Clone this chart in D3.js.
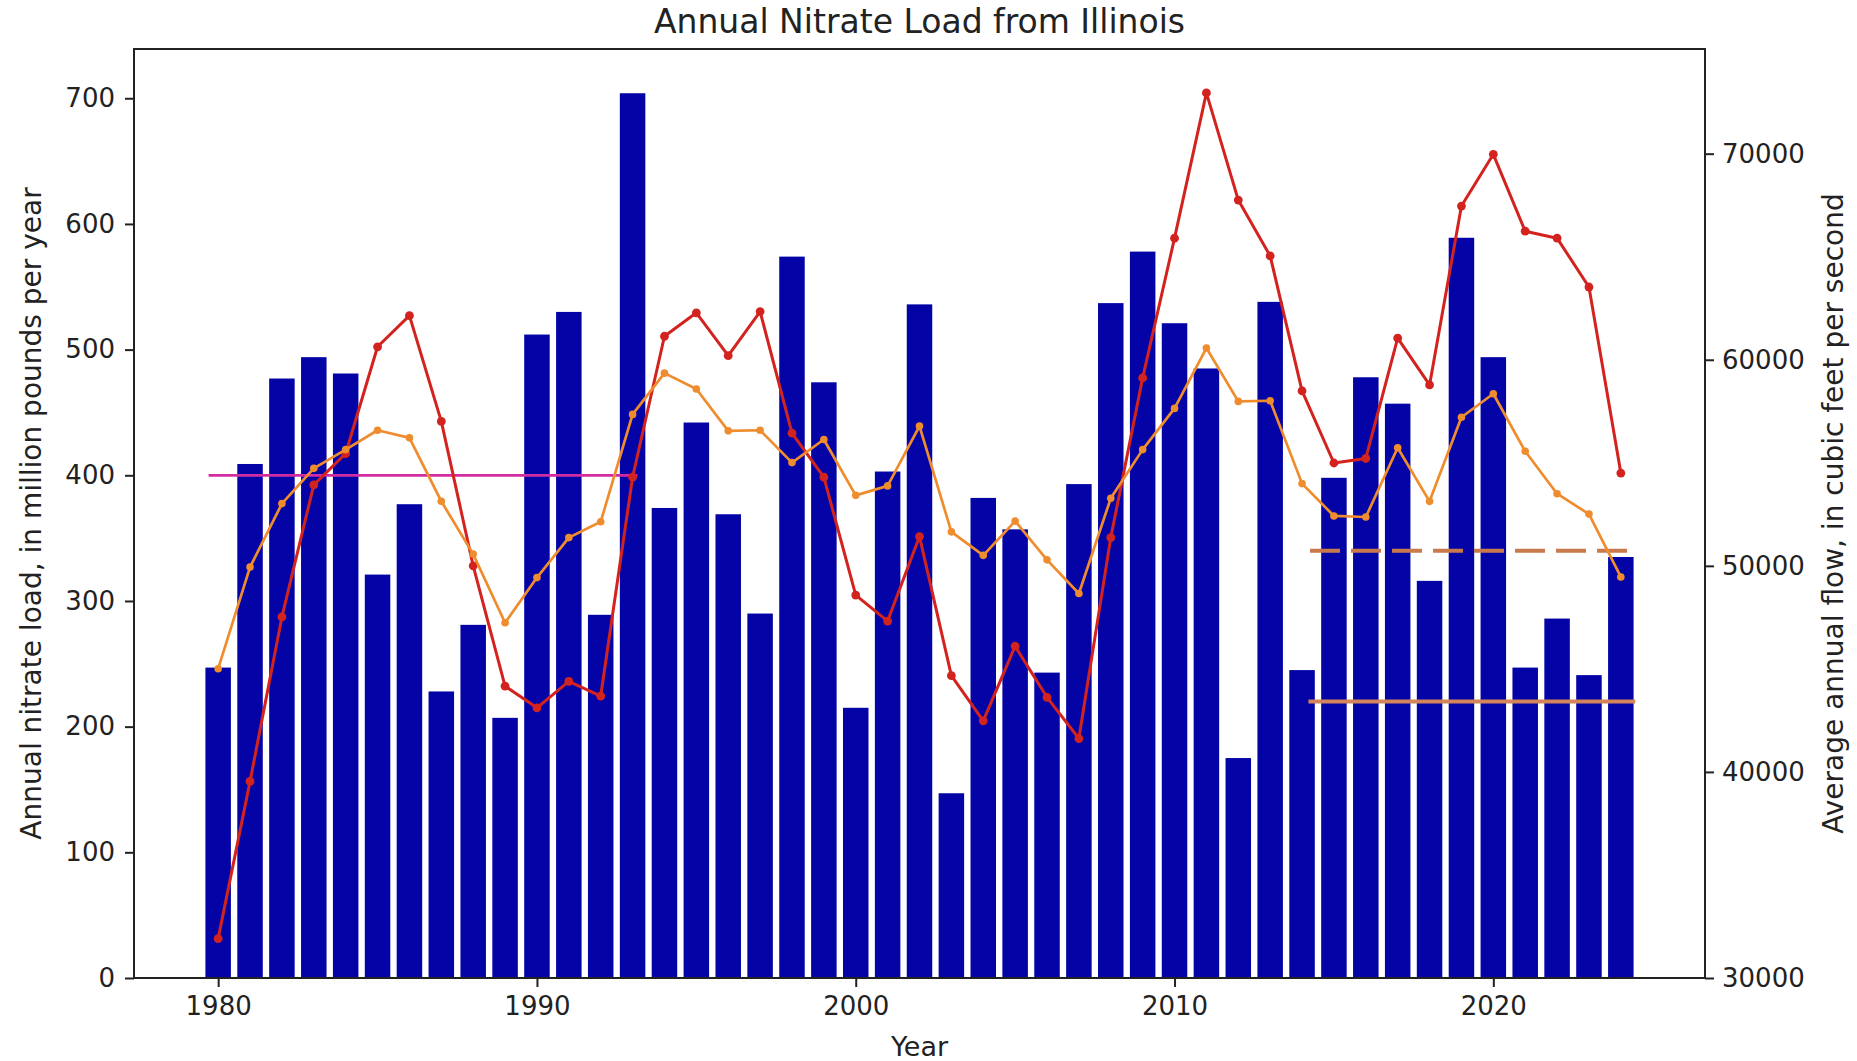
<!DOCTYPE html>
<html>
<head>
<meta charset="utf-8">
<script src="https://cdn.jsdelivr.net/npm/d3@7"></script>
<style>
  html, body { margin: 0; padding: 0; background: #fff; }
  svg { display: block; }
  text { font-family: "DejaVu Sans", sans-serif; fill: #222; }
</style>
</head>
<body>
<svg id="chart" width="1857" height="1061"></svg>
<script>
// ---------------- DATA ----------------
const years = d3.range(1980, 2025);

// Annual nitrate load, million pounds per year (left axis, bars)
const nitrateLoad = [
  247, 409, 477, 494, 481, 321, 377, 228, 281, 207,
  512, 530, 289, 704, 374, 442, 369, 290, 574, 474,
  215, 403, 536, 147, 382, 357, 243, 393, 537, 578,
  521, 485, 175, 538, 245, 398, 478, 457, 316, 589,
  494, 247, 286, 241, 335
];

// Average annual flow, cubic feet per second (right axis, red line)
const annualFlow = [
  31910, 39540, 47520, 53930, 55450, 60630, 62140, 57010, 50000, 44160,
  43110, 44390, 43680, 54300, 61140, 62280, 60200, 62340, 56440, 54300,
  48580, 47320, 51420, 44670, 42480, 46100, 43620, 41620, 51370, 59120,
  65900, 72950, 67750, 65040, 58490, 54990, 55210, 61050, 58780, 67460,
  69970, 66240, 65900, 63530, 54500
];

// Smoothed flow (right axis, orange line)
const smoothedFlow = [
  45010, 49940, 53020, 54730, 55640, 56580, 56210, 53130, 50570, 47240,
  49430, 51370, 52140, 57350, 59350, 58580, 56550, 56580, 55010, 56130,
  53420, 53880, 56780, 51650, 50510, 52170, 50290, 48660, 53280, 55640,
  57640, 60570, 57980, 58010, 53990, 52420, 52370, 55730, 53130, 57210,
  58350, 55560, 53500, 52510, 49460
];

// Reference load levels (left axis): baseline, interim target, final target
const refNames  = ["baseline", "interim", "target"];
const refValues = [400, 340, 220];
const refStart  = [1979.7, 2014.25, 2014.2];
const refEnd    = [1993.15, 2024.35, 2024.45];

const xTicks     = [1980, 1990, 2000, 2010, 2020];
const leftTicks  = [0, 100, 200, 300, 400, 500, 600, 700];
const rightTicks = [30000, 40000, 50000, 60000, 70000];

const titleText  = "Annual Nitrate Load from Illinois";
const xLabel     = "Year";
const leftLabel  = "Annual nitrate load, in million pounds per year";
const rightLabel = "Average annual flow, in cubic feet per second";

// ---------------- LAYOUT ----------------
const L = 134, R = 1705, T = 49, B = 978;
const svg = d3.select("#chart");

const barW = 0.8;
const span = years[years.length - 1] - years[0] + barW;
const x = d3.scaleLinear()
  .domain([years[0] - barW / 2 - 0.05 * span, years[years.length - 1] + barW / 2 + 0.05 * span])
  .range([L, R]);
const yL = d3.scaleLinear().domain([0, d3.max(nitrateLoad) * 1.05]).range([B, T]);
const yR = d3.scaleLinear().domain([30000, 75080]).range([B, T]);

const plot = svg.append("g");

// Bars
plot.selectAll("rect.bar")
  .data(years.map((yr, i) => ({ yr, v: nitrateLoad[i] })))
  .join("rect")
  .attr("class", "bar")
  .attr("x", d => x(d.yr - barW / 2))
  .attr("width", d => x(d.yr + barW / 2) - x(d.yr - barW / 2))
  .attr("y", d => yL(d.v))
  .attr("height", d => yL(0) - yL(d.v))
  .attr("fill", "#0404a6");

// Reference lines
const refStyle = {
  baseline: { color: "#d22ca2", width: 2.8, dash: null },
  interim:  { color: "#c97a4c", width: 4,   dash: "30,11" },
  target:   { color: "#d4845a", width: 3.8, dash: null }
};
refNames.forEach((n, i) => {
  const s = refStyle[n];
  plot.append("line")
    .attr("x1", x(refStart[i])).attr("x2", x(refEnd[i]))
    .attr("y1", yL(refValues[i])).attr("y2", yL(refValues[i]))
    .attr("stroke", s.color).attr("stroke-width", s.width)
    .attr("stroke-dasharray", s.dash);
});

// Flow lines
function drawSeries(vals, color, lw, r) {
  const pts = years.map((yr, i) => [x(yr), yR(vals[i])]);
  plot.append("path")
    .attr("d", d3.line()(pts))
    .attr("fill", "none").attr("stroke", color)
    .attr("stroke-width", lw).attr("stroke-linejoin", "round");
  plot.selectAll(null).data(pts).join("circle")
    .attr("cx", d => d[0]).attr("cy", d => d[1]).attr("r", r)
    .attr("fill", color);
}
drawSeries(annualFlow, "#d3231f", 3, 4.4);
drawSeries(smoothedFlow, "#ef8d2e", 2.7, 3.8);

// Axes
const axisFont = "26px";
function styleAxis(g) {
  g.selectAll("path.domain").remove();
  g.selectAll(".tick line").attr("stroke", "#222").attr("stroke-width", 2);
  g.selectAll(".tick text").style("font-size", axisFont).attr("fill", "#222")
    .style("font-family", "DejaVu Sans, sans-serif");
}
svg.append("g").attr("transform", `translate(0,${B})`)
  .call(d3.axisBottom(x).tickValues(xTicks).tickFormat(d3.format("d")).tickSize(9).tickPadding(10))
  .call(styleAxis);
svg.append("g").attr("transform", `translate(${L},0)`)
  .call(d3.axisLeft(yL).tickValues(leftTicks).tickFormat(d3.format("d")).tickSize(9).tickPadding(10))
  .call(styleAxis);
svg.append("g").attr("transform", `translate(${R},0)`)
  .call(d3.axisRight(yR).tickValues(rightTicks).tickFormat(d3.format("d")).tickSize(9).tickPadding(8))
  .call(styleAxis);

// Frame
svg.append("rect").attr("x", L).attr("y", T).attr("width", R - L).attr("height", B - T)
  .attr("fill", "none").attr("stroke", "#222").attr("stroke-width", 2);

// Texts
svg.append("text").attr("x", (L + R) / 2).attr("y", 33)
  .attr("text-anchor", "middle").style("font-size", "33px").text(titleText);
svg.append("text").attr("x", (L + R) / 2).attr("y", 1056)
  .attr("text-anchor", "middle").style("font-size", "27px").text(xLabel);
svg.append("text").attr("transform", `translate(41,${(T + B) / 2}) rotate(-90)`)
  .attr("text-anchor", "middle").style("font-size", "28px").text(leftLabel);
svg.append("text").attr("transform", `translate(1843,${(T + B) / 2}) rotate(-90)`)
  .attr("text-anchor", "middle").style("font-size", "28px").text(rightLabel);
</script>
</body>
</html>
